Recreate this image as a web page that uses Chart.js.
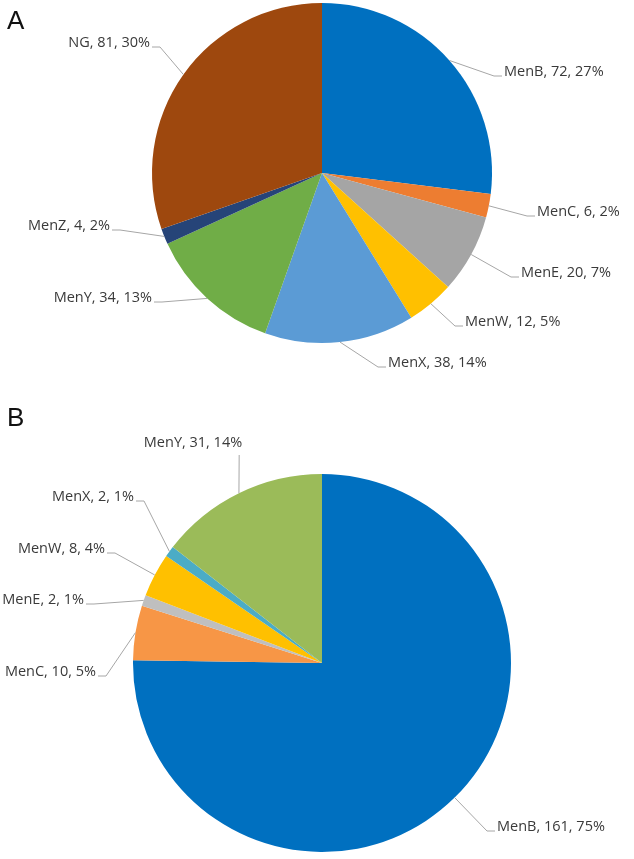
<!DOCTYPE html>
<html>
<head>
<meta charset="utf-8">
<script src="https://cdn.jsdelivr.net/npm/chart.js@4.4.1/dist/chart.umd.min.js"></script>
<style>
  body { margin: 0; background: #fff; width: 634px; height: 859px; position: relative; overflow: hidden; }
  .panel { position: absolute; left: 0; width: 634px; }
  #wrapA { top: 0; height: 385px; }
  #wrapB { top: 385px; height: 474px; }
  .tag { position: absolute; left: 7px; font: 26px/1 'Liberation Sans', Arial, sans-serif; color: #111; }
</style>
</head>
<body>
<div class="panel" id="wrapA"><canvas id="chartA"></canvas></div>
<div class="panel" id="wrapB"><canvas id="chartB"></canvas></div>
<div class="tag" style="top:7px">A</div>
<div class="tag" style="top:404px">B</div>
<script>
// Panel A
const groupsA = ['MenB', 'MenC', 'MenE', 'MenW', 'MenX', 'MenY', 'MenZ', 'NG'];
const countsA = [72, 6, 20, 12, 38, 34, 4, 81];
const pctA = [27, 2, 7, 5, 14, 13, 2, 30];
const colorsA = ['#0070C0', '#ED7D31', '#A5A5A5', '#FFC000', '#5B9BD5', '#70AD47', '#264478', '#9E480E'];

// Panel B
const groupsB = ['MenB', 'MenC', 'MenE', 'MenW', 'MenX', 'MenY'];
const countsB = [161, 10, 2, 8, 2, 31];
const pctB = [75, 5, 1, 4, 1, 14];
const colorsB = ['#0070C0', '#F79646', '#BFBFBF', '#FFC000', '#4BACC6', '#9BBB59'];

// where each data label sits (page px): x, y, text alignment
const labelPosA = [
  [504, 72, 'left'], [537, 212, 'left'], [521, 273, 'left'], [465, 322, 'left'],
  [388, 363, 'left'], [152, 298, 'right'], [110, 226, 'right'], [150, 43, 'right']
];
const labelPosB = [
  [497, 827, 'left'], [96, 672, 'right'], [84, 600, 'right'], [105, 549, 'right'],
  [134, 497, 'right'], [193, 443, 'center']
];

const calloutPlugin = {
  id: 'callouts',
  afterDatasetsDraw(chart, args, opts) {
    const { ctx } = chart;
    const meta = chart.getDatasetMeta(0);
    const ds = chart.data.datasets[0];
    ctx.save();
    ctx.font = opts.font;
    ctx.textBaseline = 'middle';
    meta.data.forEach((arc, i) => {
      const [tx, pageY, align] = opts.positions[i];
      const ty = pageY - opts.offsetY;
      const mid = (arc.startAngle + arc.endAngle) / 2;
      const px = arc.x + Math.cos(mid) * arc.outerRadius;
      const py = arc.y + Math.sin(mid) * arc.outerRadius;
      const text = `${chart.data.labels[i]}, ${ds.data[i]}, ${opts.pct[i]}%`;
      ctx.strokeStyle = '#A6A6A6';
      ctx.lineWidth = 1;
      ctx.beginPath();
      ctx.moveTo(px, py);
      if (align === 'center') {
        ctx.lineTo(tx + ctx.measureText(text).width / 2 - 3, ty + 12);
      } else {
        const dir = align === 'left' ? -1 : 1;
        const ly = ty + 4;
        ctx.lineTo(tx + dir * 10, ly);
        ctx.lineTo(tx + dir * 2, ly);
      }
      ctx.stroke();
      ctx.fillStyle = '#3a3a3a';
      ctx.textAlign = align;
      ctx.fillText(text, tx, ty);
    });
    ctx.restore();
  }
};

function pieChart(id, labels, counts, colors, pct, positions, offsetY, padding) {
  return new Chart(document.getElementById(id), {
    type: 'pie',
    data: {
      labels,
      datasets: [{ data: counts, backgroundColor: colors, borderWidth: 0 }]
    },
    options: {
      responsive: true,
      maintainAspectRatio: false,
      animation: false,
      layout: { padding },
      plugins: {
        legend: { display: false },
        tooltip: { enabled: false },
        callouts: { positions, pct, offsetY, font: "14.5px 'Open Sans', sans-serif" }
      }
    },
    plugins: [calloutPlugin]
  });
}

pieChart('chartA', groupsA, countsA, colorsA, pctA, labelPosA, 0,
  { top: 3, bottom: 42, left: 152, right: 142 });
pieChart('chartB', groupsB, countsB, colorsB, pctB, labelPosB, 385,
  { top: 89, bottom: 7, left: 133, right: 123 });
</script>
</body>
</html>
